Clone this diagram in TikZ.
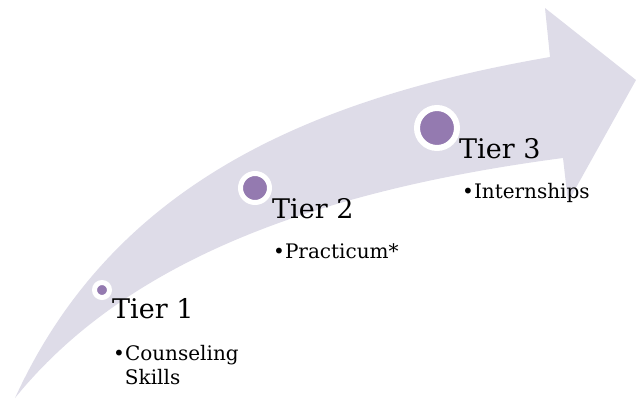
\documentclass[tikz,border=0pt]{standalone}
\usepackage{fontspec}
\setmainfont{DejaVu Serif}
\usepackage{tikz}
\definecolor{band}{RGB}{222,220,232}
\definecolor{dot}{RGB}{148,122,176}

\begin{document}
\begin{tikzpicture}[x=1pt,y=-1pt,
	tierdot/.style={circle,draw=white,fill=dot,line width=5pt,inner sep=0pt,minimum size=#1},
	tiertitle/.style={anchor=base west,inner sep=0pt,font=\fontsize{27}{30}\selectfont},
	tieritem/.style={anchor=base west,inner sep=0pt,align=left,font=\fontsize{20}{24}\selectfont}]
	\useasboundingbox (0,0) rectangle (636,402);
	% curved arrow
	\fill[band] (15,398) .. controls (110,190) and (300,100) .. (550,57)
		-- (545,8) -- (636,80) -- (568,202) -- (563,158)
		.. controls (305,192) and (122,266) .. (15,398) -- cycle;
	
	\node[tierdot=15pt] (d1) at (102,290) {};
	\node[tierdot=29pt] (d2) at (255,188) {};
	\node[tierdot=40pt,line width=6pt] (d3) at (437,128) {};
	
	\node[tiertitle] (t1) at (112,318) {Tier 1};
	\node[tiertitle] (t2) at (272,218) {Tier 2};
	\node[tiertitle] (t3) at (459,158) {Tier 3};
	
	% base of a two-line node sits on its last line
	\node[tieritem] (i1) at (113,384) {\textbullet Counseling\\\hphantom{\textbullet}Skills};
	\node[tieritem] (i2) at (273,258) {\textbullet Practicum*};
	\node[tieritem] (i3) at (462,198) {\textbullet Internships};
\end{tikzpicture}
\end{document}
